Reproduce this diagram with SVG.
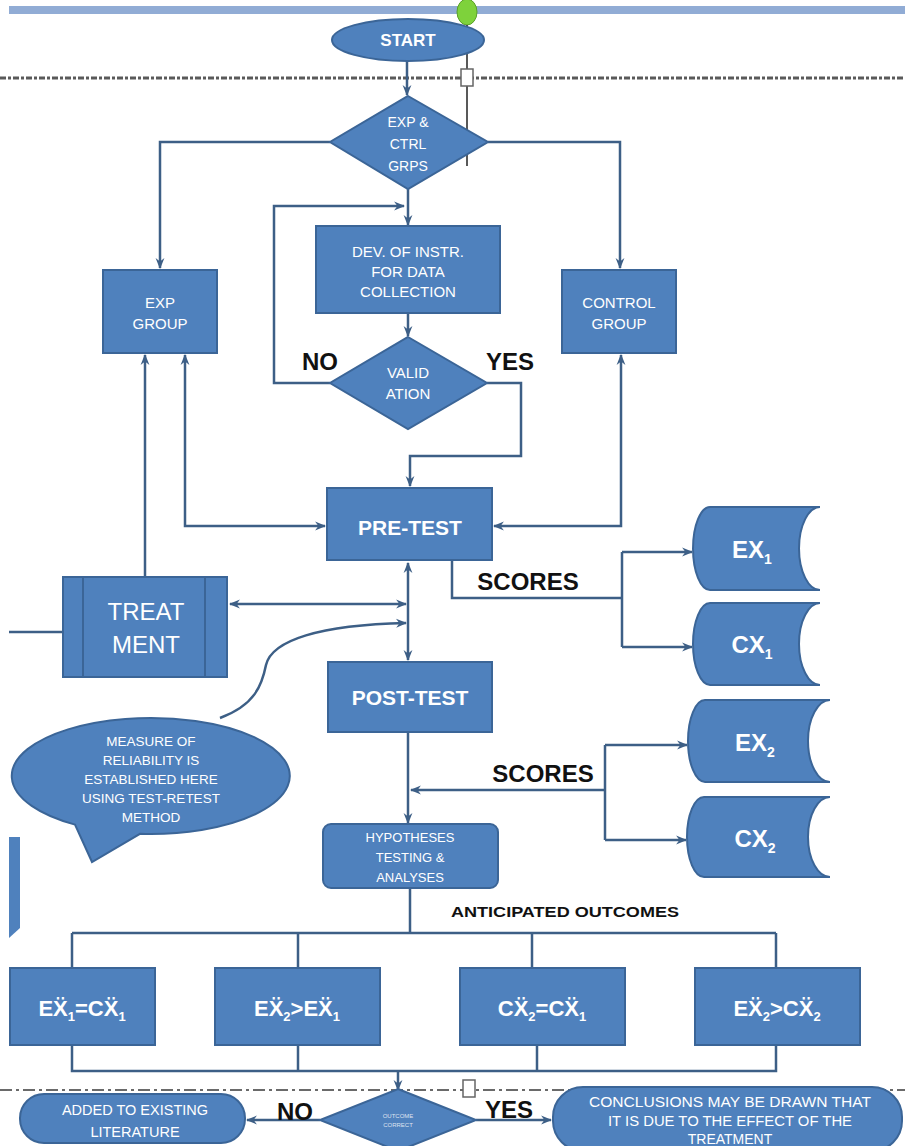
<svg xmlns="http://www.w3.org/2000/svg" width="905" height="1146" viewBox="0 0 905 1146">
<defs>
<marker id="ah" viewBox="0 0 10 10" refX="9" refY="5" markerWidth="11" markerHeight="11" markerUnits="userSpaceOnUse" orient="auto-start-reverse">
<path d="M0,1 L10,5 L0,9 L3,5 z" fill="#3d5f86"/>
</marker>
<style>
.n{fill:#4f81bd;stroke:#3b6597;stroke-width:2}
.t{font-family:"Liberation Sans",Arial,sans-serif;fill:#ffffff;text-anchor:middle}
.b{font-family:"Liberation Sans",Arial,sans-serif;fill:#111111;font-weight:bold;text-anchor:middle}
.c{fill:none;stroke:#3d5f86;stroke-width:2.5}
.ce{fill:none;stroke:#3d5f86;stroke-width:2.5;marker-end:url(#ah)}
.cb{fill:none;stroke:#3d5f86;stroke-width:2.5;marker-end:url(#ah);marker-start:url(#ah)}
</style>
</defs>
<rect x="0" y="0" width="905" height="1146" fill="#ffffff"/>
<rect x="9" y="6" width="896" height="8" fill="#91acd5"/>
<line x1="0" y1="78" x2="905" y2="78" stroke="#5a5a5a" stroke-width="3" stroke-dasharray="6 2 3 2"/>
<line x1="0" y1="1090" x2="905" y2="1090" stroke="#6a6a6a" stroke-width="2" stroke-dasharray="12 4 3 4"/>

<g id="connectors">
<path class="ce" d="M407 61 V95"/>
<path class="ce" d="M330 142 H160 V268"/>
<path class="ce" d="M488 142 H620 V268"/>
<path class="ce" d="M408 188 V225"/>
<path class="ce" d="M408 313 V336"/>
<path class="ce" d="M330 383 H274 V206 H404"/>
<path class="ce" d="M487 383 H521 V456 H410 V486"/>
<path class="cb" d="M185 355 V526 H325"/>
<path class="cb" d="M621 355 V526 H494"/>
<path class="ce" d="M145 577 V355"/>
<path class="cb" d="M408 563 V660"/>
<path class="cb" d="M230 604 H406"/>
<path class="ce" d="M220 718 C255 705 262 685 266 665 C272 640 320 625 406 623"/>
<path class="c" d="M9 632 H63"/>
<path class="c" d="M452 561 V598 H622 M622 552 V647"/>
<path class="ce" d="M622 552 H692"/>
<path class="ce" d="M622 647 H692"/>
<path class="ce" d="M408 732 V823"/>
<path class="ce" d="M605 790 H411"/>
<path class="c" d="M605 745 V840"/>
<path class="ce" d="M605 745 H687"/>
<path class="ce" d="M605 840 H686"/>
<path class="c" d="M410 888 V933 M72 933 H776 M72 933 V968 M298 933 V968 M532 933 V968 M776 933 V968"/>
<path class="c" d="M72 1045 V1071 H776 V1045 M298 1045 V1071 M537 1045 V1071"/>
<path class="ce" d="M398 1071 V1090"/>
<path class="ce" d="M320 1120 H247"/>
<path class="ce" d="M476 1120 H551"/>
</g>

<g id="marks">
<ellipse cx="467" cy="12" rx="10" ry="13" fill="#7ed23b" stroke="#5aa02a" stroke-width="1"/>
<line x1="467" y1="25" x2="467" y2="69" stroke="#222" stroke-width="1.5"/>
<line x1="467" y1="86" x2="467" y2="166" stroke="#222" stroke-width="1.5"/>
<rect x="461" y="69" width="12" height="17" fill="#fff" stroke="#666" stroke-width="1.5"/>
<rect x="463" y="1080" width="12" height="17" fill="#fff" stroke="#666" stroke-width="1.5"/>
<polygon points="9,837 20,837 20,928 9,938" fill="#4f81bd"/>
</g>

<g id="start">
<ellipse class="n" cx="408" cy="40" rx="76" ry="21"/>
<text class="t" x="408" y="46" font-size="17" font-weight="bold">START</text>
</g>

<g id="groups-decision">
<polygon class="n" points="408,96 488,142 408,189 330,142"/>
<text class="t" x="408" y="127" font-size="14">EXP &amp;</text>
<text class="t" x="408" y="149" font-size="14">CTRL</text>
<text class="t" x="408" y="171" font-size="14">GRPS</text>
</g>

<g id="exp-group">
<rect class="n" x="103" y="270" width="114" height="83"/>
<text class="t" x="160" y="308" font-size="15">EXP</text>
<text class="t" x="160" y="329" font-size="15">GROUP</text>
</g>

<g id="control-group">
<rect class="n" x="562" y="270" width="114" height="83"/>
<text class="t" x="619" y="308" font-size="15">CONTROL</text>
<text class="t" x="619" y="329" font-size="15">GROUP</text>
</g>

<g id="dev-instr">
<rect class="n" x="316" y="226" width="184" height="87"/>
<text class="t" x="408" y="257" font-size="15">DEV. OF INSTR.</text>
<text class="t" x="408" y="277" font-size="15">FOR DATA</text>
<text class="t" x="408" y="297" font-size="15">COLLECTION</text>
</g>

<g id="validation">
<polygon class="n" points="408,337 487,383 408,429 330,383"/>
<text class="t" x="408" y="378" font-size="15">VALID</text>
<text class="t" x="408" y="399" font-size="15">ATION</text>
</g>
<text class="b" x="320" y="370" font-size="24">NO</text>
<text class="b" x="510" y="370" font-size="24">YES</text>

<g id="pre-test">
<rect class="n" x="327" y="488" width="165" height="72"/>
<text class="t" x="410" y="535" font-size="21" font-weight="bold">PRE-TEST</text>
</g>

<g id="treatment">
<rect class="n" x="63" y="577" width="164" height="100"/>
<line x1="83" y1="577" x2="83" y2="677" stroke="#3b6597" stroke-width="2"/>
<line x1="205" y1="577" x2="205" y2="677" stroke="#3b6597" stroke-width="2"/>
<text class="t" x="146" y="620" font-size="24">TREAT</text>
<text class="t" x="146" y="653" font-size="24">MENT</text>
</g>

<g id="post-test">
<rect class="n" x="328" y="662" width="164" height="70"/>
<text class="t" x="410" y="705" font-size="21" font-weight="bold">POST-TEST</text>
</g>

<text class="b" x="528" y="590" font-size="24">SCORES</text>
<text class="b" x="543" y="782" font-size="24">SCORES</text>

<g id="ex1">
<path class="n" d="M710 507 H820 A21 41.5 0 0 0 820 590 H710 A17 41.5 0 0 1 710 507 Z"/>
<text class="t" x="752" y="558" font-size="24" font-weight="bold">EX<tspan font-size="14" dy="6">1</tspan></text>
</g>
<g id="cx1">
<path class="n" d="M710 603 H820 A21 41 0 0 0 820 685 H710 A17 41 0 0 1 710 603 Z"/>
<text class="t" x="752" y="653" font-size="24" font-weight="bold">CX<tspan font-size="14" dy="6">1</tspan></text>
</g>
<g id="ex2">
<path class="n" d="M705 700 H830 A22 41 0 0 0 830 782 H705 A17 41 0 0 1 705 700 Z"/>
<text class="t" x="755" y="751" font-size="24" font-weight="bold">EX<tspan font-size="14" dy="6">2</tspan></text>
</g>
<g id="cx2">
<path class="n" d="M704 797 H830 A22 40 0 0 0 830 877 H704 A17 40 0 0 1 704 797 Z"/>
<text class="t" x="755" y="847" font-size="24" font-weight="bold">CX<tspan font-size="14" dy="6">2</tspan></text>
</g>

<g id="callout">
<path class="n" d="M75 824.6 A139 58 0 1 1 140 833.8 L92 862 Z"/>
<text class="t" x="151" y="746" font-size="13.5">MEASURE  OF</text>
<text class="t" x="151" y="765" font-size="13.5">RELIABILITY IS</text>
<text class="t" x="151" y="784" font-size="13.5">ESTABLISHED HERE</text>
<text class="t" x="151" y="803" font-size="13.5">USING TEST-RETEST</text>
<text class="t" x="151" y="822" font-size="13.5">METHOD</text>
</g>

<g id="hypotheses">
<rect class="n" x="323" y="824" width="175" height="64" rx="8"/>
<text class="t" x="410" y="842" font-size="13">HYPOTHESES</text>
<text class="t" x="410" y="862" font-size="13">TESTING &amp;</text>
<text class="t" x="410" y="882" font-size="13">ANALYSES</text>
</g>

<text class="b" x="565" y="917" font-size="14" textLength="228" lengthAdjust="spacingAndGlyphs">ANTICIPATED OUTCOMES</text>

<g id="outcome1">
<rect class="n" x="10" y="968" width="145" height="77"/>
<text class="t" x="82" y="1016" font-size="22" font-weight="bold">EX&#776;<tspan font-size="13" dy="5">1</tspan><tspan dy="-5">=CX&#776;</tspan><tspan font-size="13" dy="5">1</tspan></text>
</g>
<g id="outcome2">
<rect class="n" x="215" y="968" width="165" height="77"/>
<text class="t" x="297" y="1016" font-size="22" font-weight="bold">EX&#776;<tspan font-size="13" dy="5">2</tspan><tspan dy="-5">&gt;EX&#776;</tspan><tspan font-size="13" dy="5">1</tspan></text>
</g>
<g id="outcome3">
<rect class="n" x="460" y="968" width="165" height="77"/>
<text class="t" x="542" y="1016" font-size="22" font-weight="bold">CX&#776;<tspan font-size="13" dy="5">2</tspan><tspan dy="-5">=CX&#776;</tspan><tspan font-size="13" dy="5">1</tspan></text>
</g>
<g id="outcome4">
<rect class="n" x="695" y="968" width="165" height="77"/>
<text class="t" x="777" y="1016" font-size="22" font-weight="bold">EX&#776;<tspan font-size="13" dy="5">2</tspan><tspan dy="-5">&gt;CX&#776;</tspan><tspan font-size="13" dy="5">2</tspan></text>
</g>

<g id="outcome-decision">
<polygon class="n" points="398,1089 476,1120 398,1151 320,1120"/>
<text class="t" x="398" y="1118" font-size="6" fill-opacity="0.8">OUTCOME</text>
<text class="t" x="398" y="1127" font-size="6" fill-opacity="0.8">CORRECT</text>
</g>
<text class="b" x="295" y="1120" font-size="24">NO</text>
<text class="b" x="509" y="1118" font-size="24">YES</text>

<g id="added-literature">
<rect class="n" x="20" y="1094" width="225" height="49" rx="24"/>
<text class="t" x="135" y="1115" font-size="14.5">ADDED TO EXISTING</text>
<text class="t" x="135" y="1137" font-size="14.5">LITERATURE</text>
</g>

<g id="conclusions">
<rect class="n" x="553" y="1087" width="349" height="64" rx="30"/>
<text class="t" x="730" y="1107" font-size="14" textLength="282" lengthAdjust="spacingAndGlyphs">CONCLUSIONS MAY BE DRAWN THAT</text>
<text class="t" x="730" y="1126" font-size="14" textLength="244" lengthAdjust="spacingAndGlyphs">IT IS DUE TO THE EFFECT OF THE</text>
<text class="t" x="730" y="1144" font-size="14">TREATMENT</text>
</g>
</svg>
